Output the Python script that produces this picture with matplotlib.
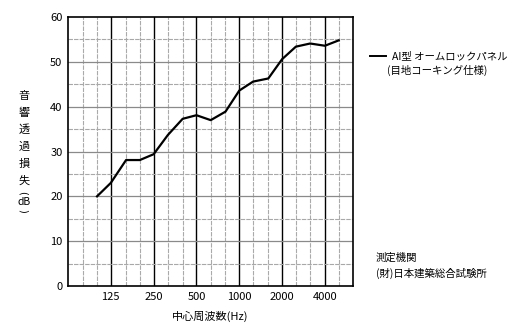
import matplotlib
matplotlib.use("Agg")
import matplotlib.pyplot as plt

plt.rcParams['font.family'] = ['Noto Sans CJK JP', 'DejaVu Sans']

# 1/3 octave band centre frequencies and transmission loss (dB)
freqs = [100, 125, 160, 200, 250, 315, 400, 500, 630, 800,
         1000, 1250, 1600, 2000, 2500, 3150, 4000, 5000]
tl = [20.0, 23.0, 28.1, 28.1, 29.4, 33.7, 37.3, 38.1, 37.0, 38.9,
      43.6, 45.6, 46.3, 50.6, 53.4, 54.1, 53.6, 54.8]

octave_ticks = [125, 250, 500, 1000, 2000, 4000]
octave_labels = ['125', '250', '500', '1000', '2000', '4000']
third_lines = [80, 100, 160, 200, 315, 400, 630, 800, 1250, 1600, 2500, 3150, 5000]
y_ticks = [0, 10, 20, 30, 40, 50, 60]

fig = plt.figure(figsize=(5.21, 3.32), dpi=100)
ax = fig.add_axes([0.1305, 0.1386, 0.547, 0.810])

ax.set_xscale('log', base=2)
ax.set_xlim(62.5, 6300)
ax.set_ylim(0, 60)

# grid
for f in third_lines:
    ax.axvline(f, color='#aaaaaa', lw=0.8, ls=(0, (4, 1)), zorder=1)
for f in octave_ticks:
    ax.axvline(f, color='black', lw=1.0, zorder=1)
for v in range(5, 60, 10):
    ax.axhline(v, color='#a8a8a8', lw=0.8, ls=(0, (4, 1)), zorder=1)
for v in range(10, 60, 10):
    ax.axhline(v, color='#8a8a8a', lw=0.9, zorder=1)

ax.plot(freqs, tl, color='black', lw=1.6, zorder=3)

ax.set_xticks(octave_ticks)
ax.set_xticklabels(octave_labels)
ax.xaxis.set_minor_locator(matplotlib.ticker.NullLocator())
ax.set_yticks(y_ticks)
ax.tick_params(axis='both', length=0, labelsize=8, pad=4)
for s in ax.spines.values():
    s.set_linewidth(1.2)

ax.set_xlabel('中心周波数(Hz)', fontsize=8, labelpad=7)

# vertical y label
ylab = ['音', '響', '透', '過', '損', '失']
for i, ch in enumerate(ylab):
    fig.text(24 / 521, 1 - (96 + i * 17) / 332, ch, fontsize=8,
             ha='center', va='center')
fig.text(23 / 521, 1 - 193 / 332, '(', fontsize=7, rotation=-90,
         family='DejaVu Sans', ha='center', va='center')
fig.text(24 / 521, 1 - 202 / 332, 'dB', fontsize=7.5,
         ha='center', va='center')
fig.text(23 / 521, 1 - 211 / 332, ')', fontsize=7, rotation=-90,
         family='DejaVu Sans', ha='center', va='center')

# legend
fig.add_artist(plt.Line2D([370 / 521, 386 / 521], [1 - 56 / 332, 1 - 56 / 332],
                          color='black', lw=1.4))
fig.text(392 / 521, 1 - 56 / 332, 'AI型 オームロックパネル', fontsize=7.5,
         ha='left', va='center')
fig.text(387 / 521, 1 - 70 / 332, '(目地コーキング仕様)', fontsize=7.5,
         ha='left', va='center')

fig.text(376 / 521, 1 - 258 / 332, '測定機関', fontsize=7.5,
         ha='left', va='center')
fig.text(376 / 521, 1 - 273 / 332, '(財)日本建築総合試験所', fontsize=7.5,
         ha='left', va='center')

fig.savefig('out.png', dpi=100)
